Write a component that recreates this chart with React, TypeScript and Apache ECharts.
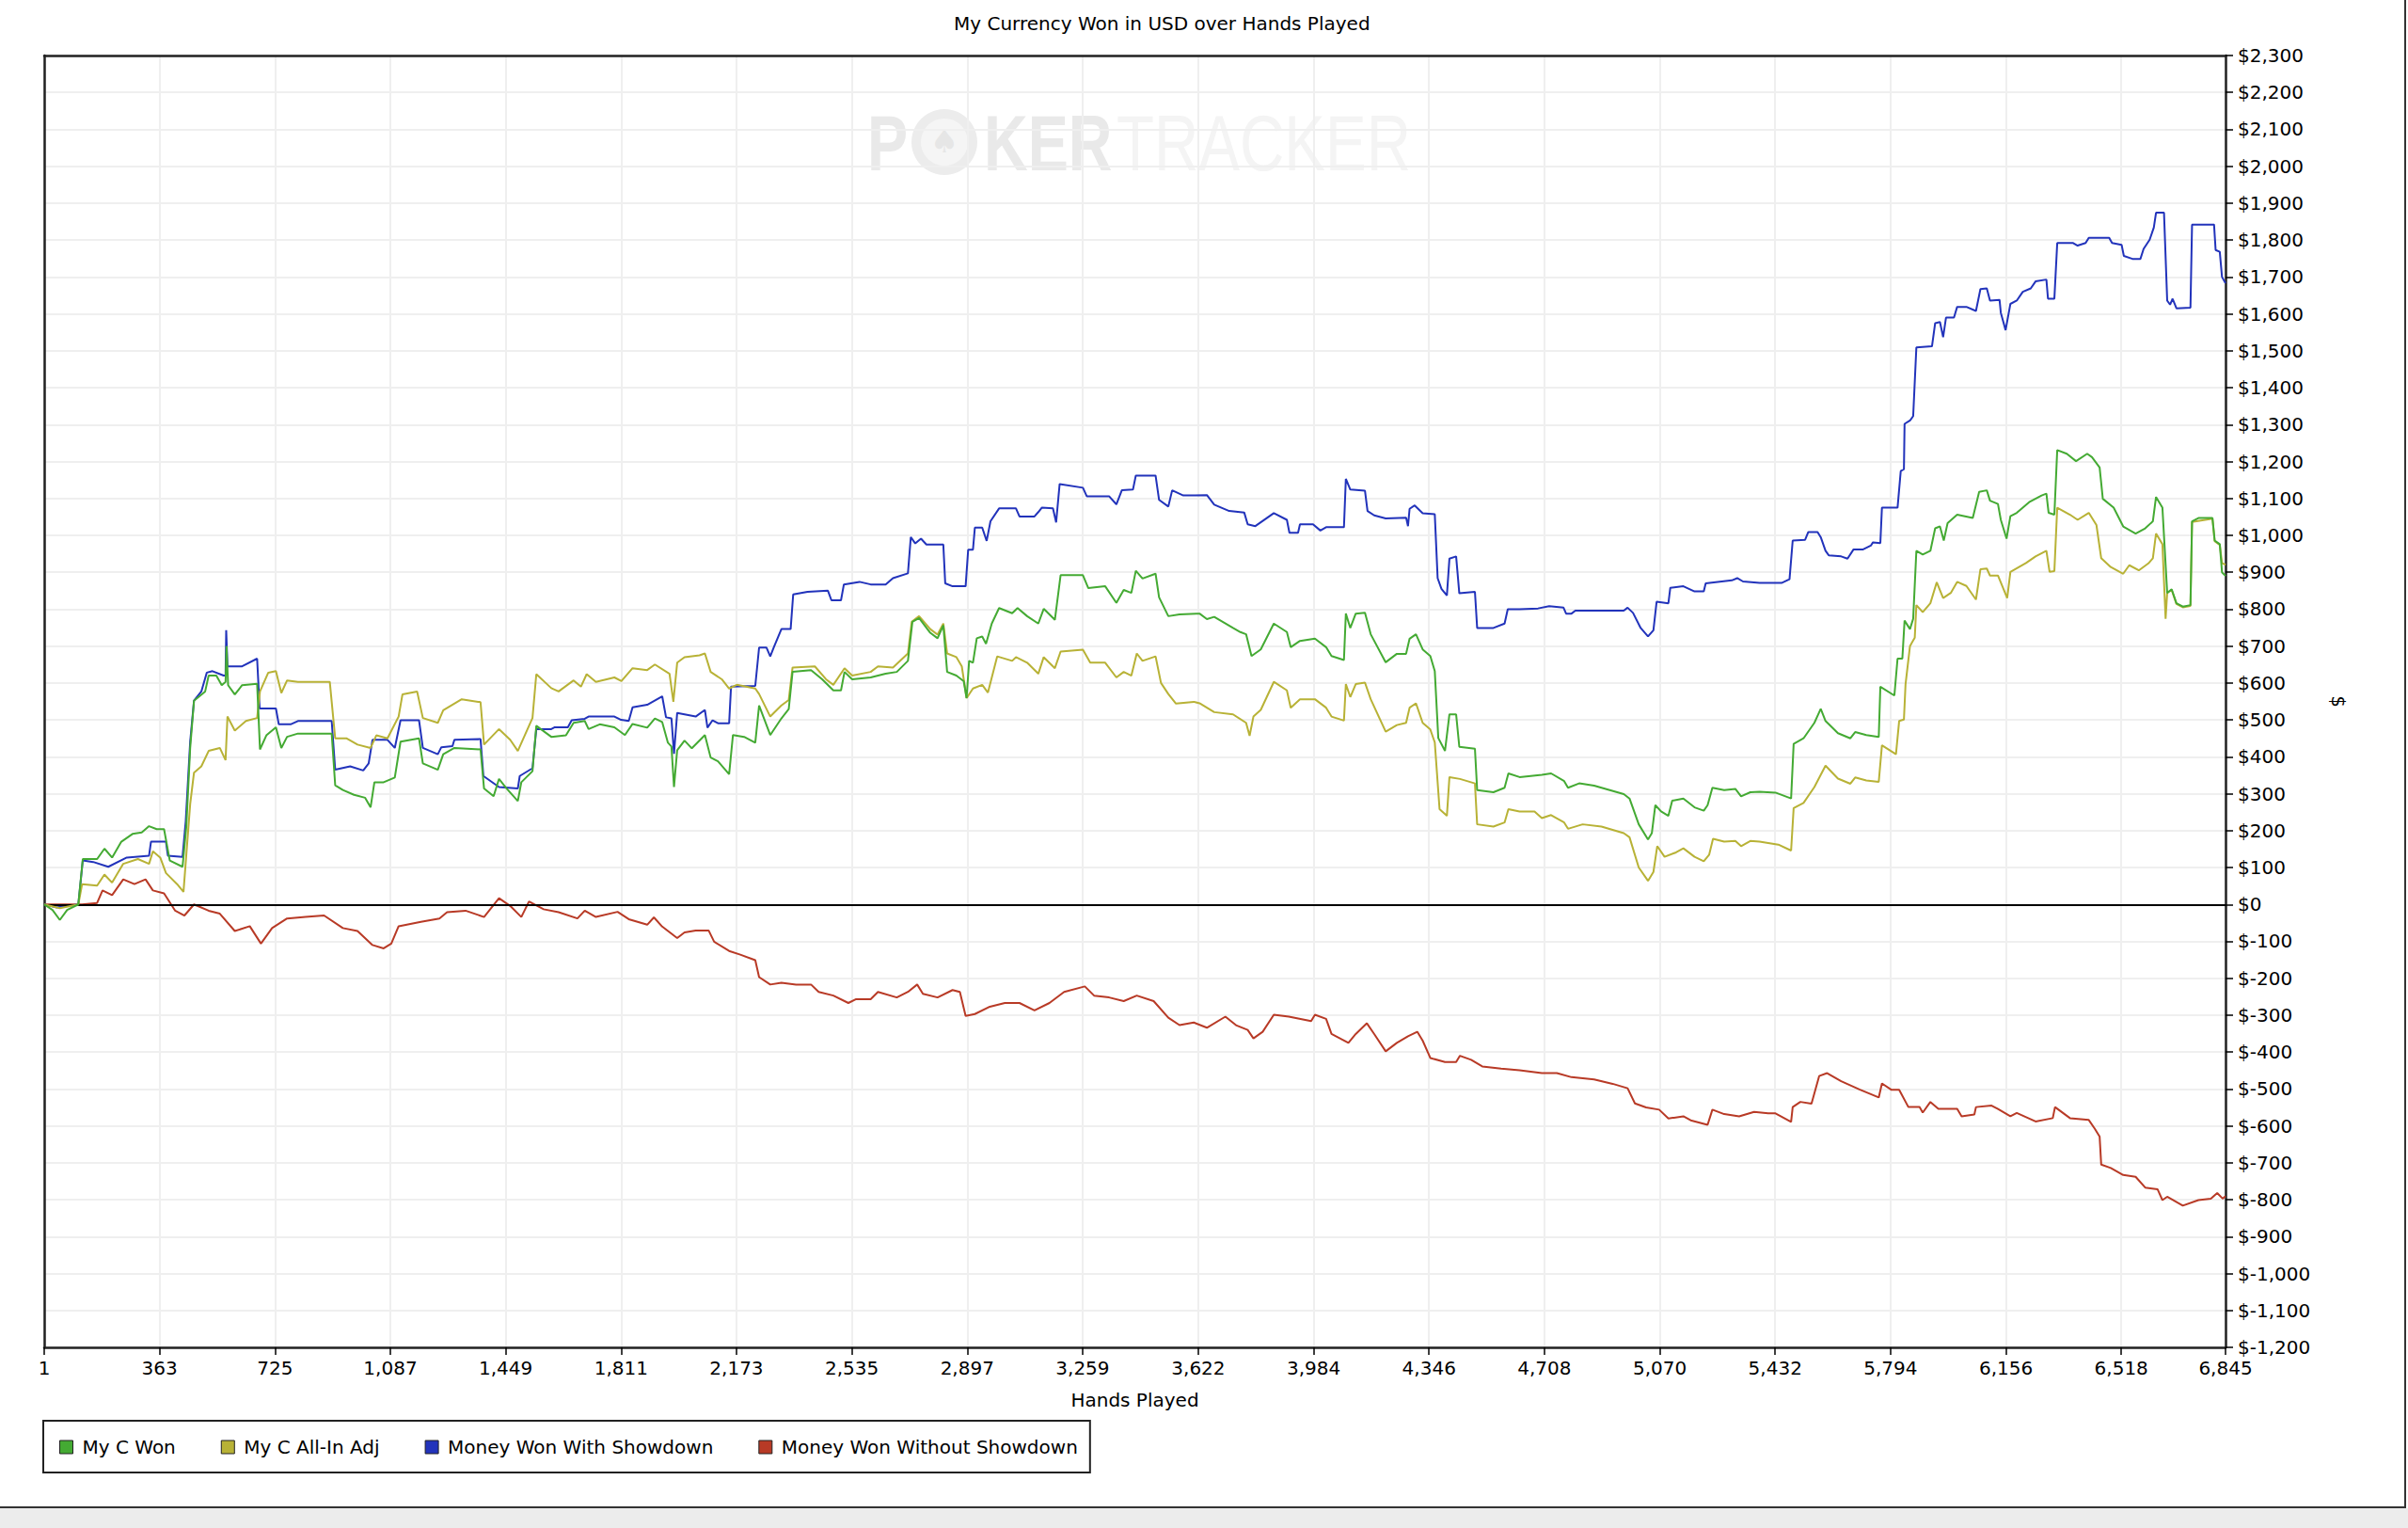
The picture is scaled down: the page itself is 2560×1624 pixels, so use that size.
import React, { useEffect, useRef } from "react";
import * as echarts from "echarts";

const FONT = "DejaVu Sans";

const chartTitle = "My Currency Won in USD over Hands Played";
const xAxisName = "Hands Played";
const yAxisName = "$";
const xTicks = [1, 363, 725, 1087, 1449, 1811, 2173, 2535, 2897, 3259, 3622, 3984, 4346, 4708, 5070, 5432, 5794, 6156, 6518, 6845];
const seriesNames = ["My C Won", "My C All-In Adj", "Money Won With Showdown", "Money Won Without Showdown"];
const seriesColors = ["#44aa33", "#b8b236", "#2233bb", "#b83a26"];

const myCWon: number[][] = [[1,0],[27,-15],[50,-42],[73,-15],[108,0],[122,123],[167,123],[190,151],[214,127],[243,170],[278,191],[307,195],[330,212],[354,204],[377,204],[395,119],[435,102],[447,212],[459,424],[471,552],[506,577],[517,620],[541,620],[558,594],[570,603],[573,700],[578,594],[599,569],[622,594],[669,598],[678,420],[698,458],[728,480],[745,424],[763,454],[797,463],[903,463],[914,323],[938,310],[973,297],[1008,289],[1025,263],[1037,331],[1066,331],[1101,344],[1119,441],[1177,450],[1189,382],[1236,365],[1253,407],[1288,424],[1370,420],[1381,314],[1411,293],[1428,340],[1452,314],[1487,280],[1498,331],[1533,361],[1545,484],[1592,454],[1638,458],[1662,492],[1697,497],[1709,475],[1744,488],[1790,480],[1823,459],[1847,489],[1893,479],[1917,504],[1940,494],[1958,438],[1969,428],[1977,318],[1987,418],[2010,444],[2033,423],[2074,459],[2092,398],[2115,388],[2150,353],[2162,459],[2197,454],[2232,438],[2244,539],[2279,459],[2314,504],[2337,529],[2349,630],[2407,635],[2442,610],[2477,580],[2501,580],[2512,630],[2536,610],[2594,615],[2641,625],[2676,630],[2711,660],[2725,766],[2746,776],[2781,736],[2804,721],[2822,756],[2834,630],[2863,620],[2886,605],[2895,559],[2903,660],[2915,655],[2927,721],[2944,726],[2956,706],[2974,761],[2997,803],[3038,789],[3055,803],[3085,781],[3120,761],[3137,801],[3172,771],[3190,892],[3260,892],[3277,857],[3330,862],[3365,817],[3388,852],[3412,844],[3426,904],[3447,883],[3488,896],[3499,832],[3528,781],[3563,786],[3626,788],[3649,773],[3672,779],[3731,749],[3754,738],[3772,732],[3789,673],[3818,691],[3859,761],[3900,738],[3912,697],[3941,714],[3988,720],[4023,697],[4040,673],[4079,662],[4085,788],[4099,749],[4116,788],[4145,790],[4163,732],[4210,656],[4245,679],[4274,679],[4285,720],[4305,732],[4326,691],[4350,673],[4364,632],[4375,451],[4396,416],[4410,515],[4431,515],[4441,427],[4490,422],[4497,310],[4548,304],[4583,316],[4595,355],[4630,345],[4700,351],[4729,355],[4770,334],[4782,316],[4817,328],[4864,322],[4957,299],[4975,287],[5004,217],[5033,176],[5045,193],[5056,269],[5074,252],[5097,240],[5109,281],[5144,287],[5179,263],[5208,254],[5220,269],[5235,316],[5272,310],[5307,313],[5325,293],[5354,304],[5383,305],[5433,303],[5482,287],[5490,435],[5521,450],[5555,492],[5575,530],[5590,497],[5629,464],[5668,450],[5683,467],[5718,459],[5757,454],[5762,590],[5806,566],[5816,666],[5831,666],[5838,769],[5855,746],[5865,774],[5875,958],[5895,948],[5919,958],[5934,1019],[5949,1024],[5961,986],[5973,1033],[6003,1056],[6052,1047],[6072,1118],[6096,1122],[6106,1094],[6131,1085],[6140,1042],[6158,991],[6170,1052],[6190,1061],[6229,1090],[6268,1108],[6283,1113],[6290,1061],[6308,1056],[6317,1231],[6347,1221],[6376,1201],[6411,1221],[6426,1212],[6450,1184],[6460,1099],[6494,1075],[6524,1024],[6563,1005],[6593,1019],[6617,1038],[6627,1104],[6647,1075],[6662,844],[6676,854],[6691,816],[6711,807],[6735,811],[6740,1038],[6760,1047],[6804,1047],[6811,986],[6827,976],[6834,900],[6845,890]];

const myCAllInAdj: number[][] = [[1,0],[50,-10],[108,0],[120,55],[167,51],[190,81],[214,59],[249,110],[295,123],[330,110],[342,144],[365,127],[383,85],[418,55],[438,34],[459,272],[471,357],[494,374],[517,416],[552,424],[570,391],[576,509],[599,471],[634,497],[669,505],[678,577],[704,628],[728,632],[745,573],[763,607],[797,603],[897,603],[914,450],[949,450],[984,433],[1025,424],[1043,458],[1078,450],[1113,509],[1125,569],[1171,577],[1189,505],[1236,492],[1253,526],[1311,556],[1370,548],[1381,433],[1428,475],[1463,446],[1487,416],[1533,505],[1545,624],[1592,586],[1615,577],[1662,607],[1685,590],[1703,624],[1732,603],[1790,615],[1812,605],[1847,640],[1893,635],[1917,650],[1963,625],[1975,549],[1987,655],[2010,670],[2057,675],[2074,680],[2092,630],[2127,610],[2150,585],[2174,595],[2232,585],[2244,570],[2279,509],[2314,539],[2337,554],[2349,642],[2419,645],[2454,610],[2477,595],[2512,640],[2536,620],[2594,630],[2617,645],[2664,642],[2711,680],[2723,766],[2746,781],[2781,746],[2804,731],[2822,761],[2834,680],[2863,670],[2880,645],[2895,559],[2915,585],[2944,595],[2962,574],[2991,672],[3038,660],[3050,670],[3085,655],[3120,625],[3137,670],[3172,640],[3190,685],[3260,690],[3283,655],[3330,655],[3365,615],[3388,630],[3412,620],[3429,680],[3447,660],[3488,672],[3505,600],[3528,570],[3552,544],[3608,549],[3626,545],[3649,533],[3672,521],[3731,515],[3772,492],[3783,457],[3795,509],[3818,527],[3859,603],[3900,580],[3912,533],[3941,556],[3988,556],[4023,533],[4040,509],[4079,498],[4085,597],[4099,562],[4116,597],[4145,601],[4163,556],[4210,468],[4245,486],[4274,492],[4285,533],[4305,545],[4326,492],[4350,474],[4364,439],[4379,258],[4402,240],[4410,345],[4443,340],[4490,328],[4497,217],[4548,211],[4583,222],[4595,258],[4630,252],[4677,252],[4700,234],[4729,242],[4770,222],[4782,205],[4828,217],[4887,211],[4957,193],[4975,182],[5004,100],[5033,64],[5050,88],[5062,158],[5085,129],[5121,141],[5144,152],[5179,129],[5208,117],[5225,135],[5237,178],[5272,170],[5307,172],[5325,158],[5354,172],[5383,170],[5442,162],[5482,146],[5490,261],[5521,275],[5555,318],[5590,376],[5629,341],[5668,327],[5683,344],[5718,336],[5757,332],[5767,431],[5811,407],[5821,497],[5836,501],[5841,596],[5855,700],[5870,723],[5875,811],[5895,792],[5919,816],[5939,873],[5959,830],[5983,844],[6003,874],[6032,863],[6062,826],[6076,908],[6096,910],[6106,891],[6131,891],[6160,830],[6170,901],[6219,925],[6249,943],[6283,958],[6293,901],[6308,903],[6317,1075],[6357,1056],[6381,1042],[6416,1061],[6440,1028],[6455,938],[6485,914],[6524,896],[6543,919],[6573,905],[6603,924],[6617,938],[6627,1005],[6647,976],[6657,774],[6662,844],[6676,852],[6691,814],[6711,805],[6735,809],[6740,1036],[6804,1045],[6811,984],[6827,974],[6834,925],[6845,920]];

const wonWithShowdown: number[][] = [[1,0],[38,-8],[108,0],[122,119],[155,115],[202,102],[260,127],[330,132],[336,170],[383,170],[389,132],[435,129],[445,225],[459,441],[471,552],[494,577],[511,628],[529,632],[564,620],[570,620],[572,743],[576,645],[622,645],[669,666],[677,531],[728,531],[737,488],[774,488],[797,497],[903,497],[914,365],[961,374],[1002,363],[1019,382],[1031,446],[1078,446],[1101,424],[1119,499],[1177,499],[1189,424],[1236,407],[1247,426],[1282,429],[1288,446],[1370,448],[1379,348],[1428,318],[1487,314],[1493,348],[1533,369],[1545,475],[1592,475],[1603,480],[1644,480],[1656,499],[1697,503],[1709,509],[1790,509],[1811,500],[1835,497],[1847,534],[1893,541],[1940,564],[1952,507],[1969,504],[1977,408],[1987,519],[2045,509],[2074,527],[2082,479],[2098,499],[2115,491],[2150,491],[2156,590],[2232,592],[2244,696],[2267,696],[2279,672],[2290,696],[2314,746],[2343,746],[2351,840],[2396,847],[2460,850],[2471,824],[2501,824],[2510,867],[2559,874],[2594,867],[2641,867],[2664,884],[2711,897],[2720,995],[2734,978],[2752,991],[2769,975],[2822,975],[2828,870],[2851,862],[2892,862],[2900,961],[2915,961],[2921,1021],[2944,1021],[2958,985],[2970,1038],[2997,1073],[3050,1073],[3061,1051],[3108,1051],[3120,1063],[3131,1075],[3166,1073],[3176,1035],[3187,1139],[3260,1129],[3272,1106],[3342,1106],[3365,1084],[3382,1122],[3417,1124],[3426,1162],[3488,1162],[3499,1096],[3528,1078],[3540,1122],[3575,1108],[3649,1109],[3672,1083],[3719,1066],[3766,1062],[3777,1030],[3801,1025],[3859,1060],[3900,1042],[3908,1007],[3935,1007],[3941,1030],[3982,1030],[4005,1013],[4023,1022],[4079,1022],[4085,1153],[4099,1124],[4145,1121],[4153,1066],[4174,1054],[4210,1046],[4274,1048],[4280,1025],[4285,1072],[4301,1081],[4326,1060],[4364,1057],[4373,884],[4385,855],[4402,837],[4410,937],[4431,943],[4441,843],[4490,847],[4497,749],[4548,749],[4583,761],[4593,800],[4630,800],[4688,802],[4723,808],[4768,804],[4776,788],[4793,788],[4805,796],[4957,796],[4969,804],[4986,790],[5010,749],[5033,726],[5050,743],[5060,820],[5097,816],[5103,858],[5144,862],[5179,848],[5208,848],[5214,870],[5296,878],[5313,884],[5331,875],[5383,871],[5452,871],[5477,881],[5487,986],[5526,988],[5536,1009],[5565,1009],[5575,995],[5590,958],[5600,946],[5639,943],[5659,937],[5678,962],[5708,962],[5732,972],[5739,981],[5762,979],[5767,1075],[5816,1075],[5826,1174],[5836,1179],[5838,1302],[5855,1311],[5865,1323],[5875,1509],[5924,1512],[5934,1575],[5949,1578],[5959,1537],[5968,1590],[5993,1590],[6003,1619],[6032,1619],[6062,1608],[6076,1667],[6096,1669],[6106,1636],[6136,1638],[6140,1603],[6155,1556],[6170,1627],[6190,1636],[6209,1660],[6234,1669],[6249,1688],[6283,1693],[6288,1641],[6308,1641],[6317,1792],[6367,1792],[6381,1785],[6406,1792],[6416,1806],[6480,1806],[6489,1792],[6519,1787],[6526,1757],[6553,1749],[6578,1749],[6588,1776],[6607,1801],[6620,1834],[6627,1874],[6652,1874],[6662,1636],[6671,1625],[6679,1641],[6691,1615],[6735,1617],[6740,1842],[6809,1842],[6814,1773],[6827,1768],[6834,1700],[6845,1683]];

const wonWithoutShowdown: number[][] = [[1,0],[50,0],[120,0],[167,4],[184,38],[214,25],[249,68],[284,55],[319,68],[342,38],[377,30],[412,-17],[441,-30],[471,0],[517,-17],[552,-25],[599,-72],[646,-59],[681,-106],[716,-64],[763,-38],[821,-34],[879,-30],[938,-64],[984,-72],[1031,-110],[1066,-119],[1090,-106],[1113,-59],[1183,-47],[1241,-38],[1265,-21],[1323,-17],[1381,-34],[1428,17],[1463,-4],[1498,-34],[1522,8],[1568,-13],[1615,-21],[1674,-38],[1697,-17],[1732,-34],[1800,-20],[1835,-40],[1893,-55],[1914,-35],[1940,-60],[1987,-91],[2010,-76],[2045,-71],[2086,-71],[2103,-101],[2150,-126],[2185,-136],[2232,-151],[2244,-197],[2279,-217],[2314,-212],[2360,-217],[2407,-217],[2431,-237],[2477,-247],[2524,-267],[2547,-257],[2594,-257],[2617,-237],[2676,-252],[2711,-237],[2740,-217],[2758,-242],[2804,-252],[2851,-232],[2874,-237],[2892,-302],[2921,-297],[2968,-277],[3015,-267],[3061,-267],[3108,-287],[3155,-267],[3201,-237],[3266,-222],[3295,-247],[3342,-252],[3388,-262],[3429,-247],[3482,-262],[3528,-307],[3563,-327],[3608,-320],[3649,-334],[3707,-304],[3742,-328],[3777,-340],[3795,-363],[3824,-345],[3859,-299],[3906,-304],[3976,-316],[3988,-299],[4023,-310],[4040,-351],[4093,-375],[4116,-351],[4151,-322],[4174,-351],[4210,-398],[4245,-375],[4280,-357],[4309,-345],[4326,-369],[4350,-416],[4396,-427],[4431,-427],[4443,-410],[4478,-421],[4513,-439],[4572,-445],[4630,-449],[4700,-457],[4747,-457],[4793,-468],[4864,-474],[4922,-486],[4969,-498],[4992,-539],[5027,-550],[5068,-556],[5097,-580],[5144,-574],[5167,-585],[5220,-597],[5235,-556],[5272,-568],[5319,-574],[5366,-562],[5410,-566],[5433,-566],[5482,-589],[5487,-549],[5511,-535],[5546,-540],[5570,-465],[5595,-457],[5639,-479],[5698,-502],[5757,-523],[5767,-485],[5796,-502],[5821,-502],[5850,-549],[5885,-549],[5895,-564],[5919,-535],[5944,-554],[6003,-554],[6017,-574],[6057,-569],[6062,-549],[6111,-545],[6131,-554],[6170,-574],[6190,-565],[6249,-588],[6303,-579],[6310,-549],[6357,-579],[6416,-584],[6435,-608],[6450,-629],[6455,-705],[6485,-714],[6524,-733],[6563,-738],[6593,-767],[6632,-772],[6647,-801],[6662,-792],[6711,-816],[6760,-801],[6799,-797],[6819,-782],[6836,-797],[6845,-790]];

const seriesData = [myCWon, myCAllInAdj, wonWithShowdown, wonWithoutShowdown];
const seriesZ = [6, 5, 4, 3];

export default function App() {
  const ref = useRef<HTMLDivElement>(null);
  useEffect(() => {
    document.body.style.margin = "0";
    const chart = echarts.init(ref.current as HTMLDivElement, null, { renderer: "svg" });
    const axisLineStyle = { color: "#222", width: 2.5 };
    const frameAxis = {
      axisLine: { show: true, onZero: false, lineStyle: axisLineStyle },
      axisTick: { show: false },
      axisLabel: { show: false },
      splitLine: { show: false },
    };
    chart.setOption({
      animation: false,
      backgroundColor: "#ffffff",
      textStyle: { fontFamily: FONT, color: "#000" },
      title: {
        text: chartTitle,
        left: 1014,
        top: 15,
        padding: 0,
        textStyle: { fontSize: 20, fontWeight: "normal", color: "#000", fontFamily: FONT },
      },
      grid: {
        left: 47,
        right: 194,
        top: 59,
        bottom: 192,
        show: false,
        outerBoundsMode: "none",
      },
      legend: {
        left: 46,
        top: 1510,
        orient: "horizontal",
        icon: "rect",
        itemWidth: 14,
        itemHeight: 14,
        itemGap: 48,
        padding: [18, 13, 17, 17],
        borderColor: "#222",
        borderWidth: 2,
        backgroundColor: "#fff",
        selectedMode: false,
        textStyle: { fontSize: 20, color: "#000", fontFamily: FONT, padding: [0, 0, 0, 5] },
        itemStyle: { borderColor: "#222", borderWidth: 1 },
        data: seriesNames,
      },
      xAxis: [
        {
          type: "value",
          min: 1,
          max: 6845,
          position: "bottom",
          name: xAxisName,
          nameLocation: "middle",
          nameGap: 46,
          nameTextStyle: { fontSize: 20, color: "#000", fontFamily: FONT },
          axisLine: { show: true, onZero: false, lineStyle: axisLineStyle },
          axisTick: { show: true, customValues: xTicks, length: 8, lineStyle: { color: "#000", width: 1.5 } },
          axisLabel: {
            customValues: xTicks,
            formatter: (v: number) => Math.round(v).toLocaleString("en-US"),
            fontSize: 20,
            color: "#000",
            fontFamily: FONT,
            margin: 12,
          },
          splitLine: { show: true, lineStyle: { color: "#efefef", width: 2 } },
        },
        { type: "value", min: 1, max: 6845, position: "top", ...frameAxis },
      ],
      yAxis: [
        {
          type: "value",
          position: "right",
          min: -1200,
          max: 2300,
          interval: 100,
          name: yAxisName,
          nameLocation: "middle",
          nameGap: 110,
          nameRotate: -90,
          nameTextStyle: { fontSize: 20, color: "#000", fontFamily: FONT },
          axisLine: { show: true, lineStyle: axisLineStyle },
          axisTick: { show: true, length: 8, lineStyle: { color: "#000", width: 1.5 } },
          axisLabel: {
            formatter: (v: number) => "$" + v.toLocaleString("en-US"),
            fontSize: 20,
            color: "#000",
            fontFamily: FONT,
            margin: 13,
          },
          splitLine: { show: true, lineStyle: { color: "#efefef", width: 2 } },
        },
        { type: "value", min: -1200, max: 2300, position: "left", ...frameAxis },
      ],
      series: seriesNames.map((name, i) => ({
        name,
        type: "line",
        xAxisIndex: 0,
        yAxisIndex: 0,
        data: seriesData[i],
        color: seriesColors[i],
        showSymbol: false,
        symbol: "none",
        silent: true,
        z: seriesZ[i],
        lineStyle: { width: 2, color: seriesColors[i] },
        itemStyle: { color: seriesColors[i] },
        markLine:
          i === 3
            ? {
                silent: true,
                symbol: ["none", "none"],
                label: { show: false },
                lineStyle: { color: "#000", width: 2, type: "solid" },
                data: [{ yAxis: 0 }],
              }
            : undefined,
      })),
      graphic: [
        { type: "text", z: -10, x: 922, y: 152, scaleX: 0.77, style: { text: "P", font: "bold 84px 'Liberation Sans'", fill: "#e9e9e9", verticalAlign: "middle" } },
        { type: "circle", z: -10, shape: { cx: 1004, cy: 151, r: 35 }, style: { fill: "#ececec" } },
        { type: "circle", z: -10, shape: { cx: 1004, cy: 151, r: 25 }, style: { fill: "#f5f5f5" } },
        { type: "text", z: -10, x: 1004, y: 150, style: { text: "\u2660", font: "34px 'DejaVu Sans'", fill: "#e6e6e6", align: "center", verticalAlign: "middle" } },
        { type: "text", z: -10, x: 1046, y: 152, scaleX: 0.77, style: { text: "KER", font: "bold 84px 'Liberation Sans'", fill: "#e9e9e9", verticalAlign: "middle" } },
        { type: "text", z: -10, x: 1187, y: 152, scaleX: 0.78, style: { text: "TRACKER", font: "84px 'Liberation Sans'", fill: "#f4f4f4", verticalAlign: "middle" } },
        { type: "rect", z: 10, shape: { x: 0, y: 1603, width: 2560, height: 21 }, style: { fill: "#ececec" } },
        { type: "line", z: 10, shape: { x1: 0, y1: 1602, x2: 2557, y2: 1602 }, style: { stroke: "#333", lineWidth: 2 } },
        { type: "line", z: 10, shape: { x1: 2557, y1: 0, x2: 2557, y2: 1603 }, style: { stroke: "#333", lineWidth: 2 } },
      ],
    });
    return () => chart.dispose();
  }, []);
  return <div ref={ref} style={{ width: 2560, height: 1624 }} />;
}
